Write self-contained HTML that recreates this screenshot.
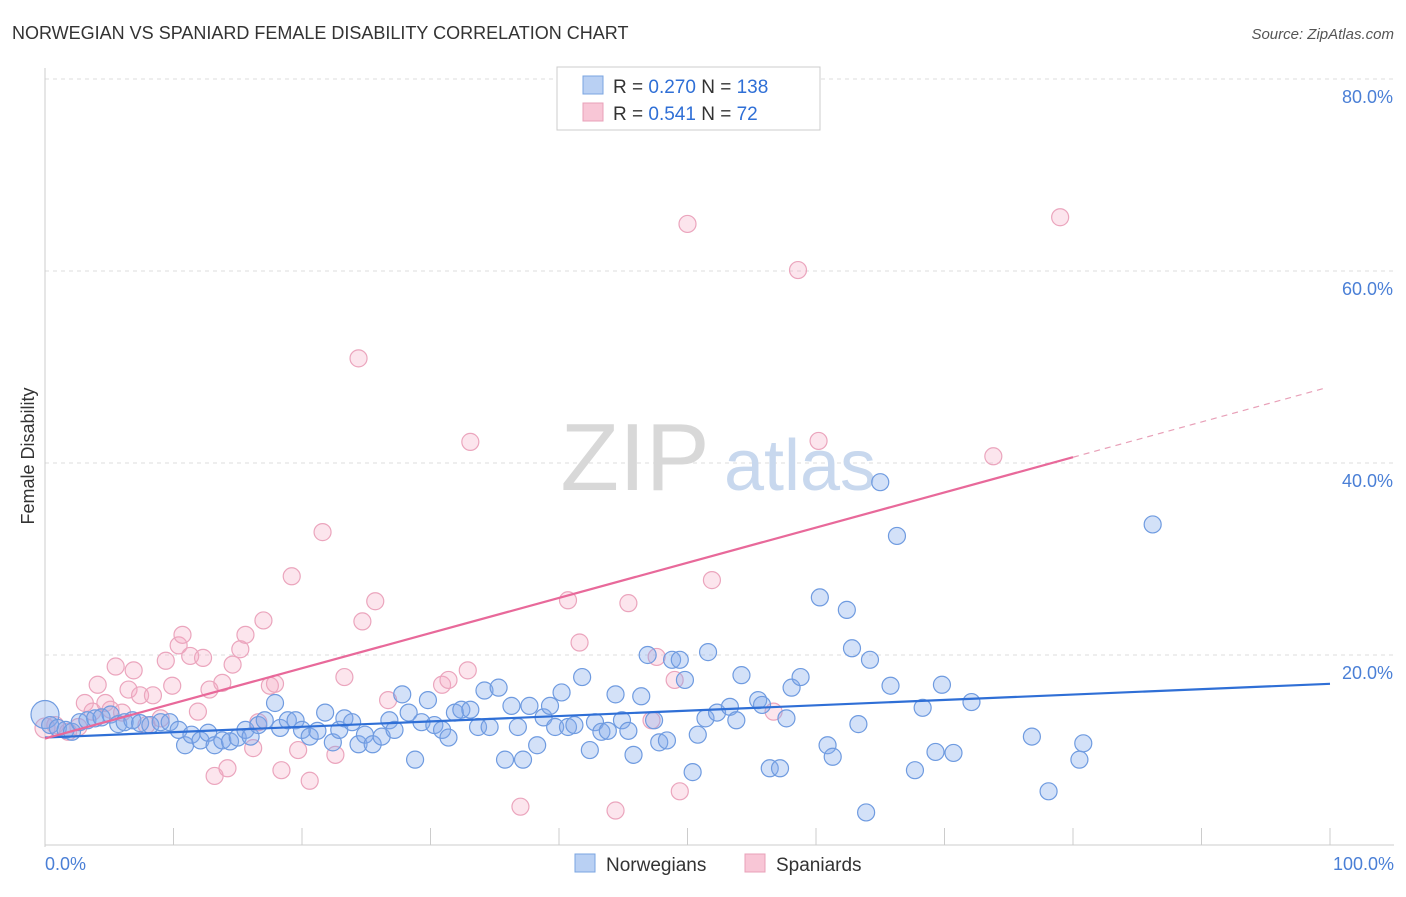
<!DOCTYPE html>
<html><head><meta charset="utf-8">
<style>
body{margin:0;background:#fff;font-family:"Liberation Sans",sans-serif;}
svg text{font-family:"Liberation Sans",sans-serif;}
</style></head>
<body>
<svg id="chart" width="1406" height="892" xmlns="http://www.w3.org/2000/svg">
<text x="12" y="39" font-size="18" fill="#333">NORWEGIAN VS SPANIARD FEMALE DISABILITY CORRELATION CHART</text>
<text x="1394" y="39" font-size="15" fill="#555" font-style="italic" text-anchor="end">Source: ZipAtlas.com</text>
<g id="grid"></g>
<g>
<text x="635" y="490" font-size="96" fill="#d8d8d8" text-anchor="middle" font-family="Liberation Serif,serif">ZIP</text>
<text x="800" y="490" font-size="72" fill="#c8d8ee" text-anchor="middle">atlas</text>
</g>
<line x1="45" y1="68" x2="45" y2="847" stroke="#ccc"/>
<line x1="45" y1="845" x2="1394" y2="845" stroke="#ccc"/>
<g id="xticks"></g>
<g id="ylabels"></g>
<text x="45" y="870" font-size="18" fill="#4a7fd6">0.0%</text>
<text x="1394" y="870" font-size="18" fill="#4a7fd6" text-anchor="end">100.0%</text>
<text transform="translate(34,456) rotate(-90)" font-size="18" fill="#333" text-anchor="middle">Female Disability</text>
<g id="pts"></g>
<g id="trends"></g>
<g>
<rect x="557" y="67" width="263" height="63" fill="#fff" stroke="#ccc"/>
<rect x="583" y="76" width="20" height="18" fill="#b9d0f3" stroke="#7aa4e0"/>
<rect x="583" y="103" width="20" height="18" fill="#f8c6d6" stroke="#e8a0b8"/>
<text x="613" y="93" font-size="19" fill="#333">R = <tspan fill="#2f6fd6">0.270</tspan>   N = <tspan fill="#2f6fd6">138</tspan></text>
<text x="613" y="120" font-size="19" fill="#333">R =  <tspan fill="#2f6fd6">0.541</tspan>   N =   <tspan fill="#2f6fd6">72</tspan></text>
</g>
<g>
<rect x="575" y="854" width="20" height="18" fill="#b9d0f3" stroke="#7aa4e0"/>
<text x="606" y="871" font-size="19" fill="#333">Norwegians</text>
<rect x="745" y="854" width="20" height="18" fill="#f8c6d6" stroke="#e8a0b8"/>
<text x="776" y="871" font-size="19" fill="#333">Spaniards</text>
</g>
</svg>
<script>
const yTicks=[20,40,60,80];
const yTickLabels=["20.0%","40.0%","60.0%","80.0%"];
const xTickVals=[0,10,20,30,40,50,60,70,80,90,100];
const blueX=[0,0.4,1,1.6,2.1,2.7,3.3,3.9,4.4,5.1,5.7,6.2,6.8,7.4,8.2,9,9.7,10.4,10.9,11.4,12.1,12.7,13.2,13.8,14.4,15,15.6,16,16.6,17.1,17.9,18.3,18.9,19.5,20,20.6,21.2,21.8,22.4,22.9,23.3,23.9,24.4,24.9,25.5,26.2,26.8,27.2,27.8,28.3,28.8,29.3,29.8,30.3,30.9,31.4,31.9,32.4,33.1,33.7,34.2,34.6,35.3,35.8,36.3,36.8,37.2,37.7,38.3,38.8,39.3,39.7,40.2,40.7,41.2,41.8,42.4,42.8,43.3,43.8,44.4,44.9,45.4,45.8,46.4,46.9,47.4,47.8,48.4,48.8,49.4,49.8,50.4,50.8,51.4,51.6,52.3,53.3,53.8,54.2,55.5,55.8,56.4,57.2,57.7,58.1,58.8,60.3,60.9,61.3,62.4,62.8,63.3,63.9,64.2,65,65.8,66.3,67.7,68.3,69.3,69.8,70.7,72.1,76.8,78.1,80.5,80.8,86.2];
const blueY=[13.8,12.7,12.4,12.2,12,13,13.2,13.4,13.5,13.8,12.8,13,13.2,12.9,12.7,13,13,12.2,10.6,11.7,11.1,11.9,10.6,11.1,11,11.4,12.2,11.5,12.7,13.2,15,12.4,13.2,13.2,12.2,11.5,12.1,14,10.9,12.2,13.4,13,10.7,11.7,10.7,11.5,13.2,12.2,15.9,14,9.1,13,15.3,12.7,12.2,11.4,14,14.3,14.3,12.5,16.3,12.5,16.6,9.1,14.7,12.5,9.1,14.7,10.6,13.5,14.7,12.5,16.1,12.5,12.7,17.7,10.1,13,12,12.1,15.9,13.2,12.1,9.6,15.7,20,13.2,10.9,11.1,19.5,19.5,17.4,7.8,11.7,13.4,20.3,14,14.6,13.2,17.9,15.3,14.8,8.2,8.2,13.4,16.6,17.7,26,10.6,9.4,24.7,20.7,12.8,3.6,19.5,38,16.8,32.4,8,14.5,9.9,16.9,9.8,15.1,11.5,5.8,9.1,10.8,33.6];
const pinkX=[0,0.8,1.8,2.6,3.1,3.7,4.1,4.7,5.1,5.5,6,6.5,6.9,7.4,7.9,8.4,9,9.4,9.9,10.4,10.7,11.3,11.9,12.3,12.8,13.2,13.8,14.2,14.6,15.2,15.6,16.2,16.6,17,17.5,17.9,18.4,19.2,19.7,20.6,21.6,22.6,23.3,24.4,24.7,25.7,26.7,30.9,31.4,32.9,33.1,37,40.7,41.6,44.4,45.4,47.2,47.6,49,49.4,50,51.9,56.7,58.6,60.2,73.8,79];
const pinkY=[12.4,12.7,12,12.5,15,14.1,16.9,15,14.3,18.8,14,16.4,18.4,15.8,12.7,15.8,13.4,19.4,16.8,21,22.1,19.9,14.1,19.7,16.4,7.4,17.1,8.2,19,20.6,22.1,10.3,13,23.6,16.8,17,8,28.2,10.1,6.9,32.8,9.6,17.7,50.9,23.5,25.6,15.3,16.9,17.4,18.4,42.2,4.2,25.7,21.3,3.8,25.4,13.2,19.8,17.4,5.8,64.9,27.8,14.1,60.1,42.3,40.7,65.6];
const blueTrendX=[0,100];
const blueTrendY=[11.4,17.0];
const pinkTrendX=[0,80,99.6];
const pinkTrendY=[11.3,40.6,47.8];

const NS="http://www.w3.org/2000/svg";
const sx=v=>45+v*12.85;
const sy=v=>847-v*9.6;
function mk(tag,attrs,parent){const e=document.createElementNS(NS,tag);for(const k in attrs)e.setAttribute(k,attrs[k]);parent.appendChild(e);return e;}
const grid=document.getElementById('grid');
const yl=document.getElementById('ylabels');
yTicks.forEach((t,i)=>{
  const l=mk('line',{x1:45,x2:1394,y1:sy(t),y2:sy(t),stroke:'#ddd','stroke-dasharray':'4,4'},grid);
  
  
  const tx=mk('text',{x:1393,y:sy(t)+24,'font-size':18,fill:'#4a7fd6','text-anchor':'end'},yl);
  tx.textContent=yTickLabels[i];
  
  
});
const xt=document.getElementById('xticks');
xTickVals.forEach(v=>{
  const l=mk('line',{x1:sx(v),x2:sx(v),y1:828,y2:845,stroke:'#ccc'},xt);
  
  
});
const pts=document.getElementById('pts');
pinkX.forEach((x,i)=>{
  const c=mk('circle',{cx:sx(x),cy:sy(pinkY[i]),r:x===0?10:8.5,fill:'rgba(245,170,196,0.3)',stroke:'#eba5bd','stroke-width':1.2},pts);
  
  
});
blueX.forEach((x,i)=>{
  const c=mk('circle',{cx:sx(x),cy:sy(blueY[i]),r:x===0?14:8.5,fill:'rgba(130,170,235,0.35)',stroke:'#6f9be0','stroke-width':1.2},pts);
  
  
});
const tr=document.getElementById('trends');
const bl=mk('line',{x1:sx(blueTrendX[0]),y1:sy(blueTrendY[0]),x2:sx(blueTrendX[1]),y2:sy(blueTrendY[1]),stroke:'#2f6fd6','stroke-width':2.2},tr);


const pl=mk('line',{x1:sx(pinkTrendX[0]),y1:sy(pinkTrendY[0]),x2:sx(pinkTrendX[1]),y2:sy(pinkTrendY[1]),stroke:'#e8699a','stroke-width':2.2},tr);


const pd=mk('line',{x1:sx(pinkTrendX[1]),y1:sy(pinkTrendY[1]),x2:sx(pinkTrendX[2]),y2:sy(pinkTrendY[2]),stroke:'#e8a0b8','stroke-width':1.2,'stroke-dasharray':'6,5'},tr);


</script>
</body></html>
